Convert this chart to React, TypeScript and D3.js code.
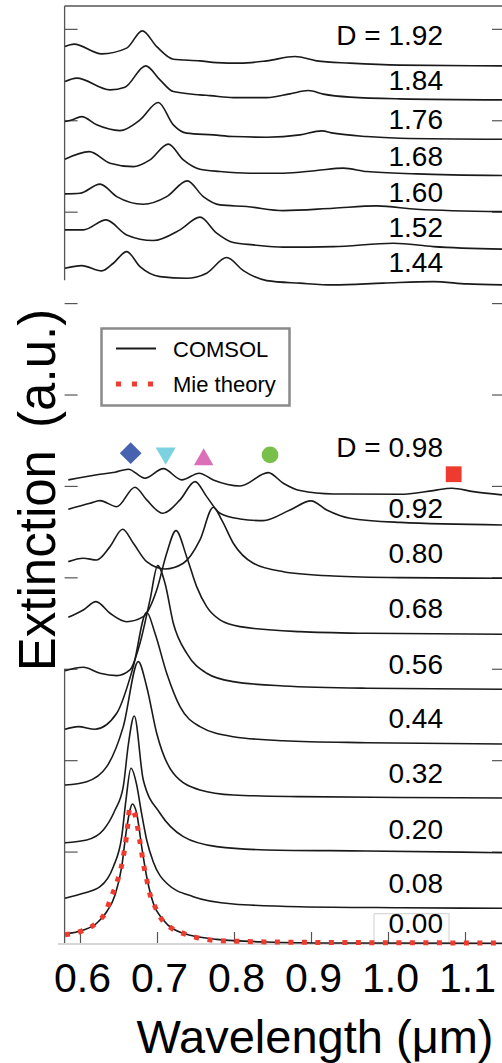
import React, { useEffect, useRef } from "react";
import * as d3 from "d3";

type Pt = [number, number];

const xTicks = [0.6, 0.7, 0.8, 0.9, 1.0, 1.1];
const yTicks = [1, 2, 3, 4, 5, 6, 7, 8, 9, 10];

// upper stack (large spheres)
const d192: Pt[] = [[0.5805, 9.806], [0.5922, 9.833], [0.6282, 9.726], [0.6606, 9.789], [0.6809, 9.978], [0.6996, 9.806], [0.7212, 9.668], [0.7558, 9.65], [0.7775, 9.631], [0.8078, 9.625], [0.8425, 9.65], [0.8792, 9.697], [0.9074, 9.65], [0.9506, 9.625], [1.0156, 9.603], [1.148, 9.595]];
const d184: Pt[] = [[0.5805, 9.423], [0.5957, 9.461], [0.639, 9.333], [0.6584, 9.362], [0.6853, 9.595], [0.7039, 9.442], [0.7212, 9.314], [0.7558, 9.278], [0.7688, 9.27], [0.7991, 9.248], [0.8425, 9.248], [0.8727, 9.289], [0.8965, 9.325], [0.916, 9.286], [0.9506, 9.253], [1.0156, 9.234], [1.148, 9.223]];
const d176: Pt[] = [[0.5805, 8.986], [0.5892, 9.004], [0.6022, 9.04], [0.6217, 8.95], [0.6519, 8.887], [0.6779, 9.004], [0.7017, 9.194], [0.7212, 8.95], [0.7385, 8.859], [0.7731, 8.84], [0.7991, 8.822], [0.8425, 8.815], [0.8857, 8.84], [0.9139, 8.884], [0.929, 8.859], [0.9723, 8.822], [1.0156, 8.804], [1.148, 8.793]];
const d168: Pt[] = [[0.5805, 8.574], [0.6121, 8.657], [0.639, 8.531], [0.6693, 8.493], [0.6909, 8.567], [0.7147, 8.739], [0.7342, 8.567], [0.7558, 8.465], [0.7818, 8.439], [0.8208, 8.421], [0.864, 8.421], [0.9074, 8.45], [0.942, 8.476], [0.9723, 8.439], [1.0373, 8.414], [1.148, 8.395]];
const d160: Pt[] = [[0.5805, 8.195], [0.6, 8.202], [0.626, 8.301], [0.6477, 8.165], [0.6822, 8.082], [0.7126, 8.165], [0.7393, 8.337], [0.7601, 8.165], [0.7818, 8.074], [0.8165, 8.056], [0.864, 8.012], [0.929, 8.038], [0.9853, 8.063], [1.0373, 8.027], [1.148, 8.001]];
const d152: Pt[] = [[0.5805, 7.801], [0.6043, 7.801], [0.6338, 7.91], [0.6606, 7.746], [0.6952, 7.684], [0.7299, 7.801], [0.7558, 7.94], [0.7775, 7.765], [0.7991, 7.662], [0.8251, 7.637], [0.864, 7.612], [0.929, 7.618], [1.0069, 7.655], [1.0589, 7.618], [1.148, 7.59]];
const d144: Pt[] = [[0.5805, 7.382], [0.6022, 7.41], [0.6282, 7.352], [0.6433, 7.436], [0.6606, 7.563], [0.6779, 7.399], [0.7039, 7.29], [0.7385, 7.272], [0.7645, 7.327], [0.7905, 7.498], [0.8121, 7.356], [0.8425, 7.246], [0.8857, 7.218], [0.929, 7.199], [0.9939, 7.218], [1.0589, 7.235], [1.1022, 7.21], [1.148, 7.199]];

// lower stack (small spheres)
const d098: Pt[] = [[0.5848, 5.066], [0.626, 5.128], [0.6455, 5.15], [0.6627, 5.183], [0.6844, 5.084], [0.7082, 5.189], [0.7321, 5.066], [0.7549, 5.139], [0.7731, 5.066], [0.8078, 5.0], [0.8445, 5.145], [0.864, 5.03], [0.8857, 4.949], [0.929, 4.912], [1.0156, 4.909], [1.0588, 4.949], [1.0827, 4.975], [1.1108, 4.938], [1.148, 4.902]];
const d092: Pt[] = [[0.5848, 4.745], [0.613, 4.811], [0.626, 4.839], [0.6477, 4.773], [0.6714, 4.986], [0.6866, 4.847], [0.7074, 4.701], [0.7299, 4.847], [0.7494, 5.047], [0.7645, 4.883], [0.7818, 4.701], [0.8078, 4.639], [0.8377, 4.62], [0.8727, 4.737], [0.9, 4.836], [0.9204, 4.737], [0.9506, 4.647], [1.0156, 4.601], [1.148, 4.573]];
const d080: Pt[] = [[0.5848, 4.172], [0.6043, 4.209], [0.6217, 4.19], [0.639, 4.336], [0.6554, 4.526], [0.6693, 4.373], [0.6866, 4.172], [0.7104, 4.092], [0.7342, 4.154], [0.7558, 4.409], [0.7731, 4.767], [0.784, 4.628], [0.7991, 4.373], [0.8251, 4.154], [0.864, 4.062], [0.929, 4.015], [1.0156, 3.997], [1.148, 3.99]];
const d068: Pt[] = [[0.5848, 3.563], [0.6043, 3.643], [0.6208, 3.734], [0.639, 3.607], [0.6606, 3.515], [0.6822, 3.57], [0.6996, 3.862], [0.7126, 4.264], [0.7247, 4.511], [0.7385, 4.226], [0.7515, 3.898], [0.7645, 3.679], [0.7818, 3.534], [0.8078, 3.461], [0.8857, 3.406], [0.9723, 3.388], [1.148, 3.377]];
const d056: Pt[] = [[0.5805, 2.979], [0.6043, 3.016], [0.626, 2.951], [0.6477, 2.925], [0.6649, 2.987], [0.6779, 3.279], [0.6909, 3.753], [0.7009, 4.128], [0.7104, 3.935], [0.7212, 3.498], [0.7385, 3.17], [0.7645, 2.951], [0.7991, 2.859], [0.864, 2.812], [0.9723, 2.787], [1.148, 2.776]];
const d044: Pt[] = [[0.5805, 2.338], [0.5978, 2.367], [0.6195, 2.338], [0.6477, 2.513], [0.6692, 3.023], [0.6866, 3.618], [0.6974, 3.388], [0.7126, 2.951], [0.7299, 2.585], [0.7558, 2.367], [0.7991, 2.257], [0.864, 2.213], [0.9723, 2.191], [1.148, 2.177]];
const d032: Pt[] = [[0.5805, 1.729], [0.6087, 1.765], [0.6347, 1.929], [0.6562, 2.367], [0.6757, 3.078], [0.6866, 2.804], [0.6996, 2.294], [0.7212, 1.857], [0.7558, 1.674], [0.7991, 1.619], [0.8857, 1.601], [1.0156, 1.592], [1.148, 1.586]];
const d020: Pt[] = [[0.5805, 1.097], [0.6087, 1.127], [0.6303, 1.236], [0.6455, 1.455], [0.6562, 1.71], [0.6627, 2.166], [0.6705, 2.484], [0.6822, 1.783], [0.7039, 1.419], [0.7342, 1.163], [0.7775, 1.054], [0.8425, 1.018], [0.9723, 1.007], [1.148, 0.988]];
const d008: Pt[] = [[0.5805, 0.489], [0.6043, 0.544], [0.626, 0.616], [0.6433, 0.835], [0.6542, 1.163], [0.6597, 1.565], [0.6662, 1.911], [0.6736, 1.729], [0.6792, 1.455], [0.6866, 1.127], [0.6952, 0.886], [0.7126, 0.653], [0.7471, 0.507], [0.7991, 0.427], [0.8857, 0.397], [1.0156, 0.386], [1.148, 0.38]];
const d000: Pt[] = [[0.5805, 0.098], [0.6043, 0.142], [0.6217, 0.216], [0.6347, 0.342], [0.6455, 0.525], [0.6542, 0.835], [0.6597, 1.2], [0.6649, 1.455], [0.6679, 1.521], [0.6736, 1.419], [0.6801, 1.054], [0.6866, 0.725], [0.6952, 0.434], [0.7082, 0.252], [0.7342, 0.106], [0.7775, 0.04], [0.8425, 0.011], [0.929, 0.0], [1.148, -0.003]];
const mie: Pt[] = [[0.5805, 0.09], [0.6035, 0.135], [0.6208, 0.216], [0.6338, 0.35], [0.6399, 0.489], [0.6468, 0.635], [0.6555, 0.908], [0.6606, 1.182], [0.6649, 1.474], [0.6714, 1.4], [0.6779, 1.108], [0.6831, 0.835], [0.6866, 0.697], [0.69, 0.561], [0.6961, 0.423], [0.7039, 0.288], [0.7191, 0.161], [0.7364, 0.098], [0.7523, 0.058], [0.7697, 0.033], [0.8035, 0.019], [0.8857, 0.008], [1.0156, 0.003], [1.148, 0.0]];

const comsol = [d192, d184, d176, d168, d160, d152, d144, d098, d092, d080, d068, d056, d044, d032, d020, d008, d000];
const labelText = ["D = 1.92", "1.84", "1.76", "1.68", "1.60", "1.52", "1.44", "D = 0.98", "0.92", "0.80", "0.68", "0.56", "0.44", "0.32", "0.20", "0.08", "0.00"];
const labelLevel = [9.825, 9.333, 8.906, 8.501, 8.107, 7.724, 7.341, 5.317, 4.65, 4.158, 3.556, 2.943, 2.352, 1.751, 1.138, 0.547, 0.109];

// mode markers above the D = 0.98 spectrum
const markerType = ["diamond", "down", "up", "circle", "square"];
const markerWl = [0.6658, 0.7113, 0.7606, 0.8468, 1.0853];
const markerLevel = [5.358, 5.358, 5.288, 5.339, 5.128];
const markerColor = ["#4762b0", "#7dd2e2", "#db6fb8", "#79c04b", "#ee3b2f"];

const spineParts: Pt[] = [[0, 3], [7.25, 10.25]];

export default function App() {
  const svgRef = useRef<SVGSVGElement>(null);

  useEffect(() => {
    if (!svgRef.current) return;
    const width = 502;
    const height = 1063;
    const font = "'Liberation Sans', Arial, Helvetica, sans-serif";
    const axisColor = "#555";

    const svg = d3.select(svgRef.current);
    svg.selectAll("*").remove();
    svg.attr("width", width).attr("height", height).attr("viewBox", `0 0 ${width} ${height}`);

    const x = d3.scaleLinear().domain([0.6, 1.1]).range([80, 465]);
    const y = d3.scaleLinear().domain([0, 10.25]).range([943, 6]);
    const left = x(0.58);

    // faint baseline and box around the 0.00 label
    svg.append("line")
      .attr("x1", 58).attr("x2", width)
      .attr("y1", y(0) + 1).attr("y2", y(0) + 1)
      .attr("stroke", "#c8c8c8").attr("stroke-width", 1.5);
    svg.append("rect")
      .attr("x", x(1.0) - 14).attr("y", y(0.32))
      .attr("width", 75).attr("height", y(0) - y(0.32))
      .attr("fill", "none").attr("stroke", "#cfcfcf").attr("stroke-width", 1);

    // frame
    svg.append("line")
      .attr("x1", left).attr("x2", width)
      .attr("y1", y(10.25)).attr("y2", y(10.25))
      .attr("stroke", axisColor).attr("stroke-width", 1.3);
    spineParts.forEach(([a, b]) => {
      svg.append("line")
        .attr("x1", left).attr("x2", left)
        .attr("y1", y(a)).attr("y2", y(b))
        .attr("stroke", axisColor).attr("stroke-width", 1.3);
    });

    const gl = svg.append("g")
      .attr("transform", `translate(${left},0)`)
      .call(d3.axisLeft(y).tickValues(yTicks).tickSizeInner(-13).tickSizeOuter(0).tickFormat(() => ""));
    gl.select(".domain").remove();
    gl.selectAll("line").attr("stroke", axisColor).attr("stroke-width", 1.2);

    const gr = svg.append("g")
      .attr("transform", `translate(${width + 1},0)`)
      .call(d3.axisRight(y).tickValues(yTicks).tickSizeInner(-11).tickSizeOuter(0).tickFormat(() => ""));
    gr.select(".domain").remove();
    gr.selectAll("line").attr("stroke", axisColor).attr("stroke-width", 1.2);

    const gb = svg.append("g")
      .attr("transform", `translate(0,${y(0)})`)
      .call(d3.axisBottom(x).tickValues(xTicks).tickSizeInner(-11).tickSizeOuter(0).tickPadding(20).tickFormat(d3.format(".1f")));
    gb.select(".domain").remove();
    gb.selectAll("line").attr("stroke", axisColor).attr("stroke-width", 1.2);
    gb.selectAll("text")
      .attr("font-size", 41).attr("font-family", font).attr("fill", "#000")
      .attr("dx", 2);

    // spectra
    const line = d3.line<Pt>()
      .x((d) => x(d[0]))
      .y((d) => y(d[1]))
      .curve(d3.curveMonotoneX);

    svg.append("g")
      .selectAll("path")
      .data(comsol)
      .join("path")
      .attr("fill", "none")
      .attr("stroke", "#1a1a1a")
      .attr("stroke-width", 1.6)
      .attr("d", line);

    svg.append("path")
      .datum(mie)
      .attr("fill", "none")
      .attr("stroke", "#f03a2e")
      .attr("stroke-width", 5)
      .attr("stroke-dasharray", "5 8.5")
      .attr("d", line);

    // D labels
    svg.append("g")
      .selectAll("text")
      .data(labelText)
      .join("text")
      .attr("x", x(1.0714))
      .attr("y", (_, i) => y(labelLevel[i]))
      .attr("text-anchor", "end")
      .attr("font-family", font)
      .attr("font-size", 28)
      .attr("fill", "#000")
      .text((d) => d);

    // markers
    const symbolOf: Record<string, { type: d3.SymbolType; size: number; rot: number }> = {
      diamond: { type: d3.symbolSquare, size: 236, rot: 45 },
      down: { type: d3.symbolTriangle, size: 175, rot: 180 },
      up: { type: d3.symbolTriangle, size: 165, rot: 0 },
      circle: { type: d3.symbolCircle, size: 220, rot: 0 },
      square: { type: d3.symbolSquare, size: 250, rot: 0 },
    };
    markerType.forEach((t, i) => {
      const s = symbolOf[t];
      svg.append("path")
        .attr("d", d3.symbol(s.type, s.size)())
        .attr("transform", `translate(${x(markerWl[i])},${y(markerLevel[i])}) rotate(${s.rot})`)
        .attr("fill", markerColor[i]);
    });

    // legend
    const lg = svg.append("g");
    lg.append("rect")
      .attr("x", 101.5).attr("y", 328.5)
      .attr("width", 188).attr("height", 77)
      .attr("fill", "#fff").attr("stroke", "#8a8a8a").attr("stroke-width", 2.5);
    lg.append("line")
      .attr("x1", 116).attr("x2", 156).attr("y1", 348.5).attr("y2", 348.5)
      .attr("stroke", "#1a1a1a").attr("stroke-width", 2);
    lg.append("line")
      .attr("x1", 116).attr("x2", 156).attr("y1", 384).attr("y2", 384)
      .attr("stroke", "#f03a2e").attr("stroke-width", 5).attr("stroke-dasharray", "5 11");
    lg.append("text")
      .attr("x", 173).attr("y", 357)
      .attr("font-family", font).attr("font-size", 22)
      .text("COMSOL");
    lg.append("text")
      .attr("x", 173).attr("y", 392)
      .attr("font-family", font).attr("font-size", 22)
      .text("Mie theory");

    // axis titles
    svg.append("text")
      .attr("x", 315).attr("y", 1053)
      .attr("text-anchor", "middle")
      .attr("font-family", font).attr("font-size", 47)
      .text("Wavelength (\u03bcm)");
    svg.append("text")
      .attr("transform", "translate(55,490) rotate(-90)")
      .attr("text-anchor", "middle")
      .attr("font-family", font).attr("font-size", 51)
      .attr("word-spacing", 8)
      .text("Extinction (a.u.)");
  }, []);

  return (
    <svg
      ref={svgRef}
      style={{ position: "absolute", left: 0, top: 0, background: "#fff" }}
    />
  );
}
